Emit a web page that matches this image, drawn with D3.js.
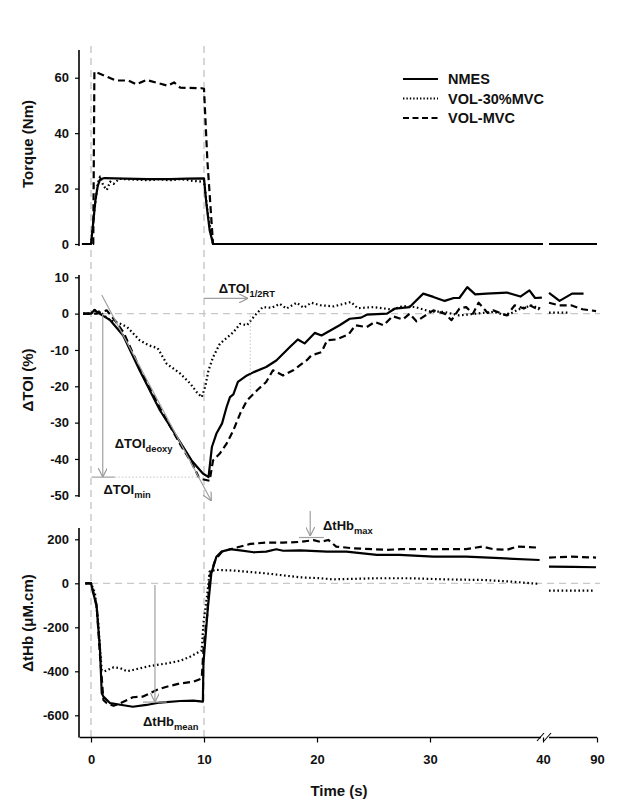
<!DOCTYPE html>
<html><head><meta charset="utf-8">
<script src="https://cdn.jsdelivr.net/npm/d3@7/dist/d3.min.js"></script>
<style>
html,body{margin:0;padding:0;background:#fff;}
svg text{font-family:"Liberation Sans",Arial,Helvetica,sans-serif;font-weight:bold;fill:#111;}
</style></head>
<body><svg id="c" width="638" height="800"></svg>
<script>
// ---------------- DATA ----------------
const xTicksLeft = [0, 10, 20, 30, 40];
const xTicksRight = [90];
const torqueTicks = [0, 20, 40, 60];
const toiTicks = [10, 0, -10, -20, -30, -40, -50];
const hbTicks = [200, 0, -200, -400, -600];
const seriesNames = ["NMES", "VOL-30%MVC", "VOL-MVC"];

// Torque (Nm) : [time s, value]
const torqueNMES = [[-0.8,0],[0,0],[0.2,8],[0.4,16],[0.6,21],[0.8,23.3],[1.2,23.8],[3,23.6],[5,23.4],[7,23.4],[8.5,23.6],[10,23.7],[10.2,15],[10.5,5],[10.8,0],[40,0]];
const torqueNMES_R = [[85,0],[90,0]];
const torque30 = [[-0.8,0],[0,0],[0.3,12],[0.6,22],[0.8,24.3],[1.1,21],[1.4,19.5],[1.7,22.5],[2.0,21.7],[2.5,23.5],[4,23.2],[5,23],[6,23.3],[7,23],[8,23.4],[9,22.8],[9.8,22.5],[10.0,23],[10.3,12],[10.8,0],[40,0]];
const torque30_R = [[85,0],[90,0]];
const torqueMVC = [[-0.8,0],[0.2,0],[0.3,62.2],[1.4,60.4],[2.2,59],[3.3,59],[4.0,57.6],[4.9,59.2],[5.8,58.2],[6.8,57.1],[7.35,58.3],[7.9,56.4],[9.8,56.2],[10.0,56],[10.3,30],[10.8,0],[40,0]];
const torqueMVC_R = [[85,0],[90,0]];

// ΔTOI (%)
const toiNMES = [[-0.7,0],[0,0],[0.3,1],[0.75,0],[1.7,-1.8],[2.85,-6],[4.3,-15.6],[6.1,-26.6],[7.9,-35.4],[8.9,-40.4],[9.9,-44],[10.4,-45],[10.7,-36.7],[11.1,-33],[11.6,-30.2],[12.0,-25.7],[12.3,-23],[12.6,-22.2],[13.0,-18.8],[13.8,-17],[14.4,-16.1],[15.5,-14.7],[16.4,-12.9],[17.6,-9.2],[18.3,-7.1],[18.9,-8.2],[19.8,-5.3],[20.4,-6],[22.0,-3.2],[22.9,-1.4],[23.9,-1.1],[24.4,-0.3],[26.2,0],[26.9,1.4],[28.2,1.8],[29.4,5.5],[30.3,4.6],[31.3,3.5],[32.1,4.3],[32.6,4.3],[33.3,7.3],[34.0,5.3],[35.0,5.5],[36.8,5.8],[38.0,4.7],[38.8,6.4],[39.3,4.3],[39.9,4.4]];
const toiNMES_R = [[85,5.7],[86.1,3.5],[87.4,5.5],[88.6,5.5]];
const toi30 = [[-0.7,0],[0,0],[0.3,1],[0.75,0.5],[1.7,-1.8],[2.6,-2.8],[3.2,-3.7],[4.3,-7.3],[5.1,-8.7],[5.9,-9.5],[6.7,-13.8],[7.9,-16.5],[8.8,-19.3],[9.35,-21.6],[9.8,-23],[10.1,-20.2],[10.4,-15.6],[10.8,-12],[11.4,-8.3],[12.6,-5.1],[13.2,-2.8],[13.8,-3.2],[14.5,-0.5],[15.2,1.8],[16.0,1.6],[16.7,2.7],[17.3,1.4],[18.2,3.0],[18.8,1.6],[19.5,3.0],[20.3,2.3],[21.5,2.0],[23.0,3.2],[23.6,1.5],[25.0,1.8],[26.7,1.1],[27.6,2.1],[28.7,1.8],[30.0,0.6],[31.2,0.5],[32.6,-0.5],[34.1,0],[35.6,0.5],[36.8,-0.5],[38.0,1.4],[39.1,2.3],[39.7,1.1]];
const toi30_R = [[85,0.3],[87.2,0.3]];
const toiMVC = [[-0.7,0],[0,0],[0.5,0],[1.4,0.9],[2.2,-2.2],[2.9,-5.3],[4.3,-15],[6.1,-26],[7.9,-36],[8.9,-41],[9.6,-45.4],[10.5,-46],[10.8,-40.4],[11.4,-38.5],[12.0,-35.8],[12.6,-32.1],[13.2,-27.5],[13.8,-23.9],[14.7,-21.1],[15.5,-18.8],[16.1,-15.6],[17.0,-17],[17.9,-15.6],[18.5,-14.2],[19.1,-12.8],[19.5,-11.5],[20.4,-10.6],[20.9,-7.3],[21.7,-7.1],[22.8,-5.7],[23.4,-3.2],[24.4,-3.7],[25.1,-2.3],[25.9,-3.2],[26.7,-0.7],[27.6,-1.6],[28.2,0],[28.8,-2.1],[29.5,-0.7],[30.3,0.9],[31.3,0],[31.9,-1.8],[32.6,1.4],[33.2,1.8],[33.8,0],[34.3,3.0],[35.1,0.2],[35.6,0.9],[36.8,-0.5],[37.5,2.3],[38.3,1.4],[38.8,2.3],[39.6,1.1],[39.7,1.8]];
const toiMVC_R = [[85,3.0],[86,2.3],[87.3,2.3],[88.5,1.2],[89.9,0.7]];

// ΔtHb (µM.cm)
const hbNMES = [[-0.5,0],[0,0],[0.5,-106],[0.8,-303],[0.95,-500],[1.1,-515],[1.7,-545],[2.6,-552],[3.7,-561],[4.9,-553],[6.1,-542],[7.9,-535],[9.05,-533],[9.9,-538],[9.95,-364],[10.35,-106],[10.65,45],[11.1,121],[11.55,144],[12.3,155],[13.2,150],[14.4,141],[15.5,144],[16.4,155],[17.0,148],[18.5,150],[20.9,144],[22.6,144],[25.3,129],[27.3,129],[30.3,121],[33.2,121],[36.2,114],[39.7,106]];
const hbNMES_R = [[85,76],[87.5,75],[89.9,73]];
const hb30 = [[-0.5,0],[0,0],[0.35,-45],[0.65,-182],[0.8,-303],[0.95,-394],[1.2,-400],[2.0,-382],[2.6,-386],[3.2,-400],[3.7,-394],[5.2,-376],[6.7,-364],[7.9,-352],[8.8,-333],[9.6,-311],[9.8,-305],[9.95,-182],[10.3,-45],[10.5,53],[11.0,61],[12.6,58],[15.5,45],[18.5,27],[20.3,23],[21.4,18],[25.3,23],[28.2,23],[31.2,18],[34.7,15],[37.1,8],[39.7,-3]];
const hb30_R = [[85,-33],[89.7,-33]];
const hbMVC = [[-0.5,0],[0,0],[0.5,-100],[0.8,-330],[1.1,-530],[1.4,-545],[2.0,-557],[2.6,-545],[3.2,-530],[3.7,-518],[4.6,-515],[5.8,-485],[6.7,-470],[7.9,-455],[9.1,-447],[9.8,-432],[9.95,-303],[10.3,-136],[10.5,30],[11.0,106],[11.6,144],[12.6,159],[14.1,179],[15.5,185],[17.0,185],[18.5,188],[19.7,196],[20.3,188],[21.0,197],[21.7,167],[23.2,159],[26.2,152],[27.4,155],[30.3,155],[33.2,155],[34.6,167],[35.6,155],[36.8,152],[37.7,167],[39.7,162]];
const hbMVC_R = [[85,117],[87.2,121],[89.9,117]];

// ---------------- DRAWING ----------------
const svg = d3.select("#c");
const xL = d3.scaleLinear().domain([-1, 40]).range([79.7, 543]);
const xR = d3.scaleLinear().domain([85, 90]).range([549, 597]);
const X = t => t > 60 ? xR(t) : xL(t);

const yT = d3.scaleLinear().domain([0, 70]).range([244, 50]);
const yO = d3.scaleLinear().domain([-50, 10]).range([495.3, 277.3]);
const yH = d3.scaleLinear().domain([-700, 250]).range([737.3, 528.3]);

const styles = {
  solid: {dash: null, w: 2.2},
  dot: {dash: "1.6,2.6", w: 2.2},
  dash: {dash: "7,4", w: 2.2}
};

// vertical dashed guide lines at t=0 and t=10
[0, 10].forEach(t => {
  svg.append("line").attr("x1", X(t)).attr("x2", X(t)).attr("y1", 46).attr("y2", 741)
    .attr("stroke", "#c4c4c4").attr("stroke-width", 1.3).attr("stroke-dasharray", "7,5");
});
// horizontal zero lines in TOI and tHb panels
[[yO, 0], [yH, 0]].forEach(([y, v]) => {
  svg.append("line").attr("x1", X(0)).attr("x2", X(90) + 3).attr("y1", y(v)).attr("y2", y(v))
    .attr("stroke", "#c8c8c8").attr("stroke-width", 1.3).attr("stroke-dasharray", "7,5");
});

function drawLine(data, y, st) {
  const line = d3.line().x(d => X(d[0])).y(d => y(d[1]));
  svg.append("path").datum(data).attr("d", line)
    .attr("fill", "none").attr("stroke", "#000").attr("stroke-width", styles[st].w)
    .attr("stroke-linejoin", "round")
    .attr("stroke-dasharray", styles[st].dash);
}

// Torque
drawLine(torqueNMES, yT, "solid"); drawLine(torqueNMES_R, yT, "solid");
drawLine(torque30, yT, "dot"); drawLine(torque30_R, yT, "dot");
drawLine(torqueMVC, yT, "dash"); drawLine(torqueMVC_R, yT, "dash");
// TOI
drawLine(toiNMES, yO, "solid"); drawLine(toiNMES_R, yO, "solid");
drawLine(toi30, yO, "dot"); drawLine(toi30_R, yO, "dot");
drawLine(toiMVC, yO, "dash"); drawLine(toiMVC_R, yO, "dash");
// tHb
drawLine(hbNMES, yH, "solid"); drawLine(hbNMES_R, yH, "solid");
drawLine(hb30, yH, "dot"); drawLine(hb30_R, yH, "dot");
drawLine(hbMVC, yH, "dash"); drawLine(hbMVC_R, yH, "dash");

// ---------------- AXES ----------------
function yAxis(scale, ticks, top, bottom) {
  const g = svg.append("g").attr("transform", "translate(79,0)")
    .call(d3.axisLeft(scale).tickValues(ticks).tickSize(4).tickSizeOuter(0).tickPadding(6).tickFormat(d3.format("d")));
  g.select(".domain").remove();
  g.append("line").attr("x1", 0).attr("x2", 0).attr("y1", top).attr("y2", bottom)
    .attr("stroke", "#000").attr("stroke-width", 1.6);
  g.selectAll(".tick line").attr("stroke", "#000").attr("stroke-width", 1.2);
  g.selectAll(".tick text").attr("font-size", 13).attr("fill", "#111")
    .text(d => d < 0 ? "-" + Math.abs(d) : d);
  return g;
}
yAxis(yT, torqueTicks, 50, 246);
yAxis(yO, toiTicks, 275, 497);
yAxis(yH, hbTicks, 528, 737.5);

function xAxis(scale, ticks) {
  const g = svg.append("g").attr("transform", "translate(0,737.5)")
    .call(d3.axisBottom(scale).tickValues(ticks).tickSize(5).tickSizeOuter(0).tickPadding(12).tickFormat(d3.format("d")));
  g.select(".domain").attr("stroke", "#000").attr("stroke-width", 1.6);
  g.selectAll(".tick line").attr("stroke", "#000").attr("stroke-width", 1.2);
  g.selectAll(".tick text").attr("font-size", 13).attr("fill", "#111");
  return g;
}
const gxl = xAxis(xL, xTicksLeft);
gxl.select(".domain").attr("d", `M${xL(-1)},0H${xL(40) - 2}`);
const gxr = xAxis(xR, xTicksRight);
gxr.select(".domain").attr("d", `M${xR(85)},0H${xR(90)}`);
// break marks
[[537, 544], [544, 551]].forEach(([a, b]) => {
  svg.append("line").attr("x1", a).attr("y1", 741).attr("x2", b).attr("y2", 733)
    .attr("stroke", "#000").attr("stroke-width", 1.1);
});

// axis titles
svg.append("text").attr("x", 339).attr("y", 796).attr("text-anchor", "middle")
  .attr("font-size", 15).text("Time (s)");
function yTitle(txt, cy) {
  svg.append("text").attr("transform", `translate(33,${cy}) rotate(-90)`)
    .attr("text-anchor", "middle").attr("font-size", 15).text(txt);
}
yTitle("Torque (Nm)", 144);
yTitle("ΔTOI (%)", 380);
yTitle("ΔtHb (μM.cm)", 623);

// ---------------- LEGEND ----------------
seriesNames.forEach((n, i) => {
  const y = 79 + i * 19.5;
  svg.append("line").attr("x1", 403).attr("x2", 438).attr("y1", y).attr("y2", y)
    .attr("stroke", "#000").attr("stroke-width", 2)
    .attr("stroke-dasharray", i === 0 ? null : (i === 1 ? "1.4,2" : "6,3.5"));
  svg.append("text").attr("x", 448).attr("y", y + 5).attr("font-size", 14.5).text(n);
});

// ---------------- ANNOTATIONS ----------------
const defs = svg.append("defs");
defs.append("marker").attr("id", "arr").attr("viewBox", "0 0 10 10")
  .attr("refX", 10).attr("refY", 5).attr("markerWidth", 9).attr("markerHeight", 9)
  .attr("markerUnits", "userSpaceOnUse").attr("orient", "auto")
  .append("path").attr("d", "M0,0 L10,5 L0,10").attr("fill", "none").attr("stroke", "#999").attr("stroke-width", 1.3);

function aLine(x1, y1, x2, y2, arrow, dash) {
  const l = svg.append("line").attr("x1", x1).attr("y1", y1).attr("x2", x2).attr("y2", y2)
    .attr("stroke", "#a0a0a0").attr("stroke-width", 1.2);
  if (arrow) l.attr("marker-end", "url(#arr)");
  if (dash) l.attr("stroke-dasharray", dash).attr("stroke", "#cfcfcf");
  return l;
}
function label(x, y, main, sub, fs) {
  const t = svg.append("text").attr("x", x).attr("y", y).attr("font-size", fs);
  t.append("tspan").text(main);
  t.append("tspan").attr("font-size", fs * 0.72).attr("dy", 4).text(sub);
}

// ΔTOI 1/2RT
aLine(X(10), yO(4.2), X(13.9), yO(4.2), true);
aLine(X(14.1), yO(-0.5), X(14.1), yO(-22), false, "1.5,2");
label(X(11.3), 293, "ΔTOI", "1/2RT", 13);
// slope (deoxy) arrow
aLine(X(0.95), 295, X(10.65), 501, true);
// ΔTOI min
aLine(X(1.04), yO(0), X(1.04), yO(-45), true);
aLine(X(0.05), yO(-45), X(2.1), yO(-45), false);
aLine(X(2.1), yO(-45), X(10.2), yO(-45), false, "1.5,2");
label(X(2.1), 448, "ΔTOI", "deoxy", 13);
label(X(1.1), 494, "ΔTOI", "min", 13);

// ΔtHb max
aLine(X(19.4), 511, X(19.4), 536, true);
aLine(X(18.4), 537.5, X(20.6), 537.5, false);
label(323, 530, "ΔtHb", "max", 13);
// ΔtHb mean
aLine(X(5.66), yH(-8), X(5.66), yH(-540), true);
aLine(X(4.6), yH(-540), X(6.7), yH(-540), false);
label(X(4.6), 726, "ΔtHb", "mean", 13);
</script></body></html>
